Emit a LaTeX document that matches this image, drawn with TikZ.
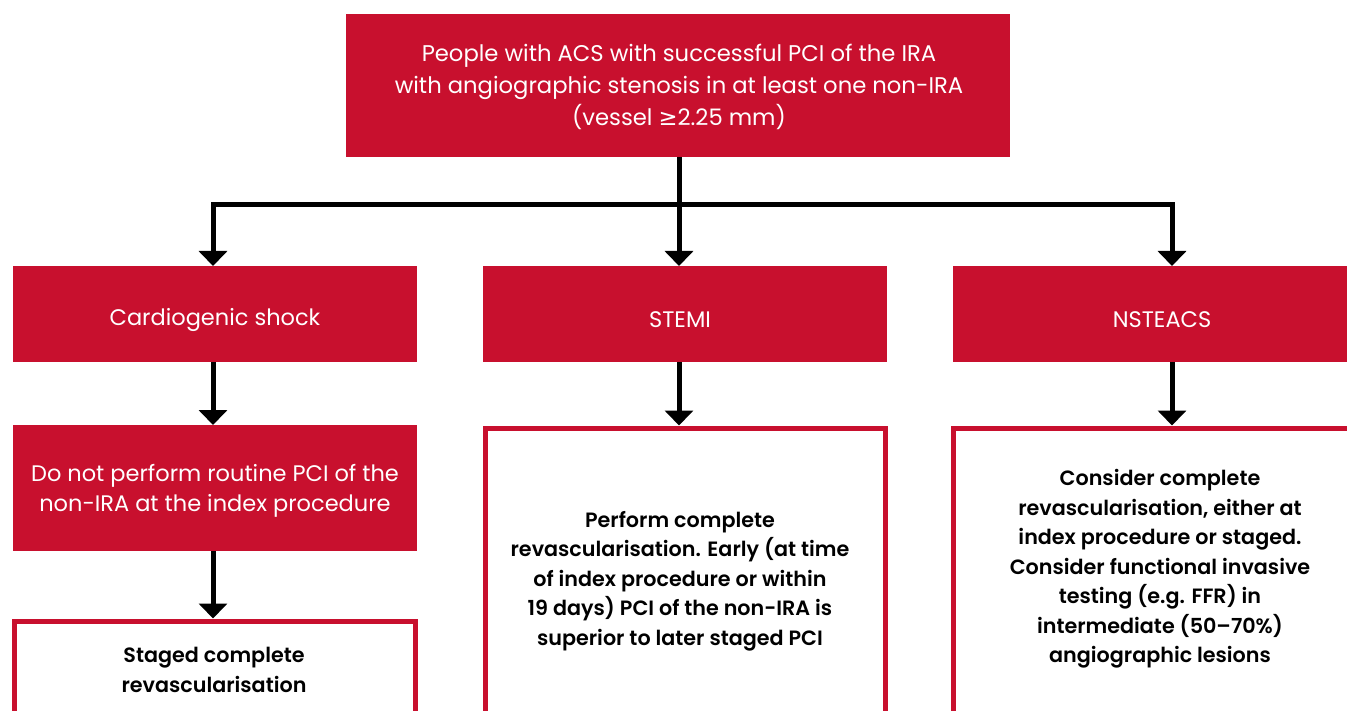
\documentclass[tikz,border=0pt]{standalone}
\usepackage{fontspec}
\setmainfont{Poppins}[BoldFont={Poppins SemiBold}]
\newfontfamily\symfont{DejaVu Sans}
\usetikzlibrary{arrows.meta}
\definecolor{acsred}{RGB}{200,16,46}
\tikzset{
  redbox/.style={fill=acsred, text=white, inner sep=0pt, outer sep=0pt,
    font=\fontsize{22.5}{30}\selectfont, align=center},
  outbox/.style={draw=acsred, line width=5pt, fill=white, inner sep=0pt},
  bodytext/.style={text=black, align=center, inner sep=0pt,
    font=\bfseries\fontsize{20.7}{29.5}\selectfont},
  link/.style={line width=5pt, -{Triangle[width=28pt,length=15pt]}},
  bus/.style={line width=5pt}
}
\begin{document}
\begin{tikzpicture}[x=1pt,y=-1pt]
\useasboundingbox (0,0) rectangle (1347,711);
\clip (0,0) rectangle (1347,711);

% column positions of the connectors
\coordinate (colA) at (213,0);
\coordinate (colB) at (679,0);
\coordinate (colC) at (1172,0);

% top box
\node[redbox, minimum width=664pt, minimum height=143pt] (acs) at (678,85.5) {};
\node[text=white, align=center, inner sep=0pt, font=\fontsize{22.7}{32}\selectfont]
  (acstxt) at (679,87)
  {People with ACS with successful PCI of the IRA\\
   with angiographic stenosis in at least one non-IRA\\
   (vessel {\symfont ≥}2.25 mm)};

% second row
\node[redbox, minimum width=404pt, minimum height=96pt] (shock) at (215,314) {};
\node[redbox, minimum width=404pt, minimum height=96pt] (stemi) at (685,314) {};
\node[redbox, minimum width=418pt, minimum height=96pt] (nste) at (1162,314) {};
\node[redbox, fill=none] (shocktxt) at (215,320) {Cardiogenic shock};
\node[redbox, fill=none] (stemitag) at (680,320) {STEMI};
\node[redbox, fill=none] (nstetag) at (1162,320) {NSTEACS};

% third row
\node[redbox, minimum width=404pt, minimum height=126pt] (nopci) at (215,488) {};
\node[redbox, fill=none] (nopcitxt) at (215,491)
  {Do not perform routine PCI of the\\non-IRA at the index procedure};
\node[outbox, minimum width=400pt, minimum height=400pt, anchor=north] (stemiact) at (685.5,425.5) {};
\node[outbox, minimum width=420pt, minimum height=400pt, anchor=north] (nsteact) at (1163.5,425.5) {};

% fourth row
\node[outbox, minimum width=401pt, minimum height=300pt, anchor=north] (staged) at (215,618.5) {};

% texts of the outlined boxes
\node[bodytext] (stemitxt) at (680,581)
  {Perform complete\\revascularisation. Early (at time\\of index procedure or within\\19 days) PCI of the non-IRA is\\superior to later staged PCI};
\node[bodytext] (nstetxt) at (1160,569)
  {Consider complete\\revascularisation, either at\\index procedure or staged.\\Consider functional invasive\\testing (e.g. FFR) in\\intermediate (50–70\%)\\angiographic lesions};
\node[bodytext] (stagedtxt) at (214,670)
  {Staged complete\\revascularisation};

% connectors
\coordinate (busL) at (213,205);
\coordinate (busR) at (1172,205);
\draw[bus] (acs.south -| colB) -- (colB |- busL);
\draw[bus] (busL) -- (busR);
\draw[link] ([yshift=2.5pt]busL) -- (shock.north -| colA);
\draw[link] (colB |- busL) -- (stemi.north -| colB);
\draw[link] ([yshift=2.5pt]busR) -- (nste.north -| colC);
\draw[link] (shock.south -| colA) -- (nopci.north -| colA);
\draw[link] (stemi.south -| colB) -- (stemiact.north -| colB);
\draw[link] (nste.south -| colC) -- (nsteact.north -| colC);
\draw[link] (nopci.south -| colA) -- (staged.north -| colA);
\end{tikzpicture}
\end{document}
